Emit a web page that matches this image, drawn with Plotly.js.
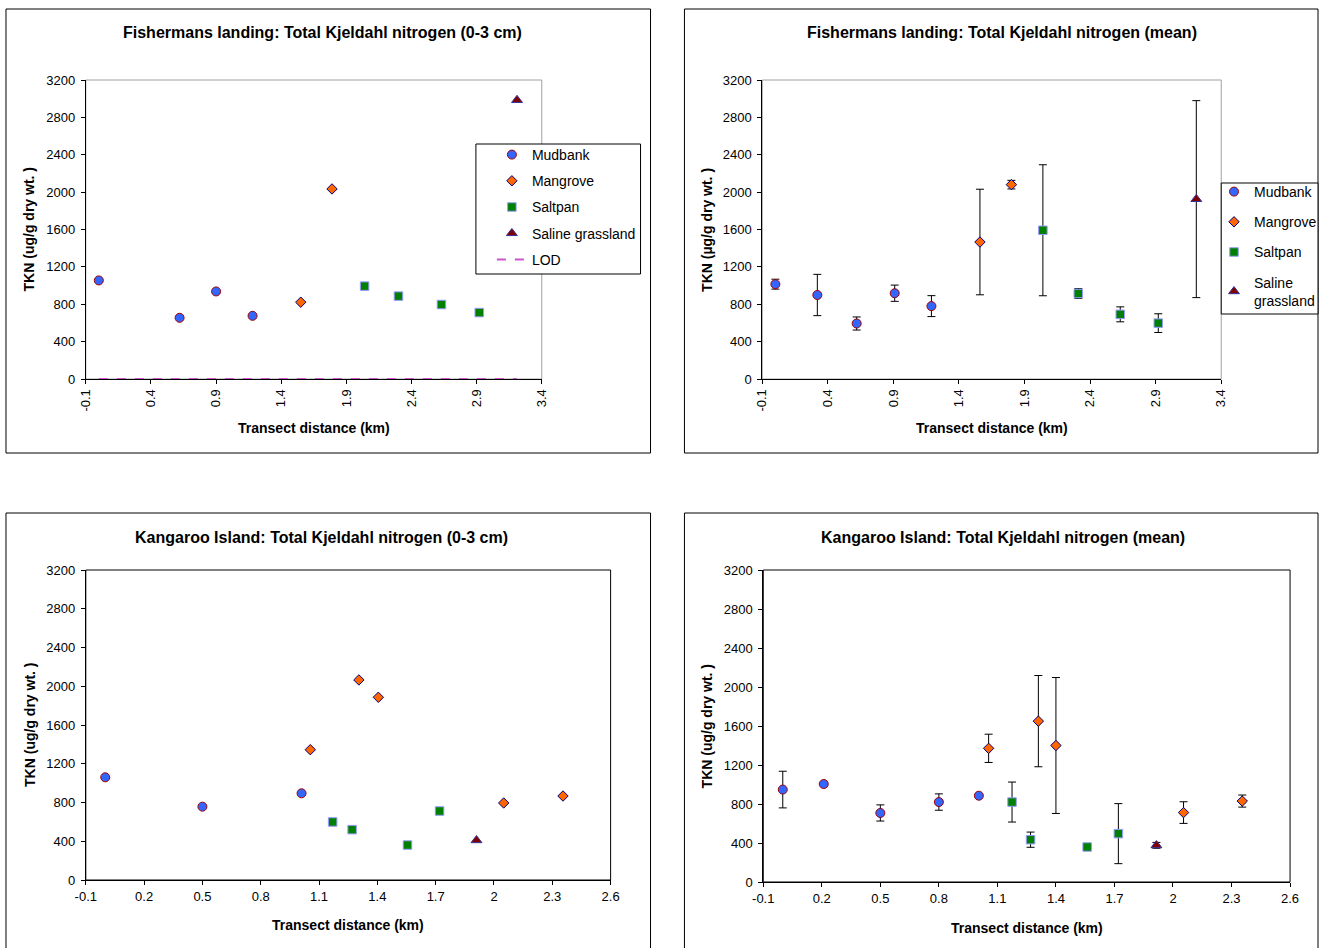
<!DOCTYPE html>
<html>
<head>
<meta charset="utf-8">
<script src="https://cdn.plot.ly/plotly-3.0.1.min.js"></script>
<style>
  html, body { margin: 0; padding: 0; background: #ffffff; }
  #chart { width: 1322px; height: 948px; }
</style>
</head>
<body>
<div id="chart"></div>
<script>
// ---------------- DATA ----------------
// Fishermans landing, 0-3 cm
const flMudX  = [0.00, 0.62, 0.90, 1.18];
const flMudY  = [1055, 655, 937, 676];
const flManX  = [1.55, 1.79];
const flManY  = [822, 2034];
const flSaltX = [2.04, 2.30, 2.63, 2.92];
const flSaltY = [994, 887, 797, 711];
const flSalX  = [3.21];
const flSalY  = [2985];
const flLodX  = [0.00, 3.21];
const flLodY  = [0, 0];

// Fishermans landing, mean (with error)
const flmMudX   = [0.00, 0.32, 0.62, 0.91, 1.19];
const flmMudY   = [1015, 899, 594, 918, 780];
const flmMudE   = [53, 221, 70, 87, 112];
const flmManX   = [1.56, 1.80];
const flmManY   = [1466, 2080];
const flmManE   = [565, 46];
const flmSaltX  = [2.04, 2.31, 2.63, 2.92];
const flmSaltY  = [1592, 915, 692, 598];
const flmSaltE  = [701, 52, 80, 100];
const flmSalX   = [3.21];
const flmSalY   = [1925];
const flmSalE   = [1054];

// Kangaroo Island, 0-3 cm
const kiMudX  = [0.00, 0.50, 1.01];
const kiMudY  = [1060, 757, 895];
const kiManX  = [1.055, 1.305, 1.405, 2.05, 2.355];
const kiManY  = [1345, 2065, 1886, 795, 867];
const kiSaltX = [1.17, 1.27, 1.555, 1.72];
const kiSaltY = [599, 520, 361, 712];
const kiSalX  = [1.91];
const kiSalY  = [410];

// Kangaroo Island, mean (with error)
const kimMudX  = [0.00, 0.21, 0.50, 0.80, 1.005];
const kimMudY  = [948, 1005, 708, 820, 885];
const kimMudE  = [188, 12, 83, 84, 10];
const kimManX  = [1.055, 1.31, 1.40, 2.054, 2.355];
const kimManY  = [1371, 1650, 1400, 712, 830];
const kimManE  = [145, 468, 697, 111, 62];
const kimSaltX = [1.175, 1.27, 1.56, 1.72];
const kimSaltY = [820, 434, 359, 496];
const kimSaltE = [205, 78, 15, 308];
const kimSalX  = [1.915];
const kimSalY  = [376];
const kimSalE  = [30];

const seriesNames = ['Mudbank', 'Mangrove', 'Saltpan', 'Saline grassland', 'LOD'];
const yTicks = [0, 400, 800, 1200, 1600, 2000, 2400, 2800, 3200];
const flXTicks = [-0.1, 0.4, 0.9, 1.4, 1.9, 2.4, 2.9, 3.4];
const flXTickText = ['-0.1', '0.4', '0.9', '1.4', '1.9', '2.4', '2.9', '3.4'];
const kiXTicks = [-0.1, 0.2, 0.5, 0.8, 1.1, 1.4, 1.7, 2.0, 2.3, 2.6];
const kiXTickText = ['-0.1', '0.2', '0.5', '0.8', '1.1', '1.4', '1.7', '2', '2.3', '2.6'];

// ---------------- STYLE ----------------
const W = 1322, H = 948;
const FONT = 'Liberation Sans, Arial, sans-serif';
const TICK = 13;
const px = v => v / W;
const py = v => 1 - v / H;

const STY = {
  mud:  {symbol: 'circle',        color: '#3366FF', line: '#A00000', size: 9},
  man:  {symbol: 'diamond',       color: '#FF6600', line: '#000080', size: 8},
  salt: {symbol: 'square',        color: '#008000', line: '#9999FF', size: 8.5},
  sal:  {symbol: 'triangle-up',   color: '#800000', line: '#3333A0', size: 9.5}
};

function pts(x, y, st, name, ax, opts) {
  opts = opts || {};
  const t = {
    type: 'scatter', mode: 'markers', x: x, y: y, name: name,
    xaxis: 'x' + ax.x, yaxis: 'y' + ax.y,
    marker: {symbol: st.symbol, color: st.color, size: st.size, line: {color: st.line, width: 1}},
    cliponaxis: false,
    showlegend: !!opts.legend,
    legendgroup: name + (opts.legend || ''),
    hoverinfo: 'x+y'
  };
  if (opts.legend) t.legend = opts.legend;
  if (opts.err) t.error_y = {type: 'data', array: opts.err, visible: true, color: '#000000', thickness: 1, width: 4};
  return t;
}

const A1 = {x: '', y: ''}, A2 = {x: '2', y: '2'}, A3 = {x: '3', y: '3'}, A4 = {x: '4', y: '4'};
const wrap = s => s.replace('Saline grassland', 'Saline<br>grassland');

const data = [
  pts(flMudX, flMudY, STY.mud, seriesNames[0], A1, {legend: 'legend'}),
  pts(flManX, flManY, STY.man, seriesNames[1], A1, {legend: 'legend'}),
  pts(flSaltX, flSaltY, STY.salt, seriesNames[2], A1, {legend: 'legend'}),
  pts(flSalX, flSalY, STY.sal, seriesNames[3], A1, {legend: 'legend'}),
  {type: 'scatter', mode: 'lines', x: flLodX, y: flLodY, name: seriesNames[4], xaxis: 'x', yaxis: 'y',
   line: {color: '#CC55CC', width: 2, dash: 'dash'}, legend: 'legend', legendgroup: 'lod', showlegend: true},

  pts(flmMudX, flmMudY, STY.mud, seriesNames[0], A2, {legend: 'legend2', err: flmMudE}),
  pts(flmManX, flmManY, STY.man, seriesNames[1], A2, {legend: 'legend2', err: flmManE}),
  pts(flmSaltX, flmSaltY, STY.salt, seriesNames[2], A2, {legend: 'legend2', err: flmSaltE}),
  pts(flmSalX, flmSalY, STY.sal, wrap(seriesNames[3]), A2, {legend: 'legend2', err: flmSalE}),

  pts(kiMudX, kiMudY, STY.mud, seriesNames[0], A3),
  pts(kiManX, kiManY, STY.man, seriesNames[1], A3),
  pts(kiSaltX, kiSaltY, STY.salt, seriesNames[2], A3),
  pts(kiSalX, kiSalY, STY.sal, seriesNames[3], A3),

  pts(kimMudX, kimMudY, STY.mud, seriesNames[0], A4, {err: kimMudE}),
  pts(kimManX, kimManY, STY.man, seriesNames[1], A4, {err: kimManE}),
  pts(kimSaltX, kimSaltY, STY.salt, seriesNames[2], A4, {err: kimSaltE}),
  pts(kimSalX, kimSalY, STY.sal, seriesNames[3], A4, {err: kimSalE})
];

function xax(dom, anchor, range, tv, tt, angle) {
  return {
    domain: dom, anchor: anchor, range: range, tickmode: 'array', tickvals: tv, ticktext: tt,
    showline: true, linecolor: '#000000', linewidth: 1, mirror: false,
    ticks: 'outside', ticklen: 4, tickcolor: '#000000', tickangle: angle,
    showgrid: false, zeroline: false, fixedrange: true, layer: 'below traces',
    tickfont: {family: FONT, size: TICK, color: '#000000'}
  };
}
function yax(dom, anchor) {
  return {
    domain: dom, anchor: anchor, range: [0, 3200], tickmode: 'array', tickvals: yTicks,
    showline: true, linecolor: '#000000', linewidth: 1,
    ticks: 'outside', ticklen: 4, tickcolor: '#000000', ticklabelstandoff: 3,
    showgrid: false, zeroline: false, fixedrange: true,
    tickfont: {family: FONT, size: TICK, color: '#000000'}
  };
}

// plot areas (pixels)
const P1 = {l: 86, r: 543, t: 80, b: 379};
const P2 = {l: 764, r: 1224, t: 80, b: 379};
const P3 = {l: 86, r: 612, t: 570, b: 880};
const P4 = {l: 765, r: 1293, t: 570, b: 882};
const dx = p => [px(p.l), px(p.r)];
const dy = p => [py(p.b), py(p.t)];

function ann(text, x, y, size, bold, angle) {
  return {
    xref: 'paper', yref: 'paper', x: px(x), y: py(y), xanchor: 'center', yanchor: 'middle',
    text: bold ? '<b>' + text + '</b>' : text, showarrow: false, textangle: angle || 0,
    font: {family: FONT, size: size, color: '#000000'}
  };
}

function box(x0, y0, x1, y1, fill, layer) {
  return {type: 'rect', xref: 'paper', yref: 'paper', x0: px(x0), x1: px(x1), y0: py(y1), y1: py(y0),
          line: {color: '#000000', width: 1}, fillcolor: fill || 'rgba(0,0,0,0)', layer: layer || 'below'};
}
function frame(ax, color) {
  return {type: 'rect', xref: 'x' + ax + ' domain', yref: 'y' + ax + ' domain', x0: 0, x1: 1, y0: 0, y1: 1,
          line: {color: color, width: 1}, fillcolor: 'rgba(0,0,0,0)', layer: 'below'};
}

const legendBase = {
  bgcolor: 'rgba(0,0,0,0)', borderwidth: 0,
  xanchor: 'left', yanchor: 'top', xref: 'paper', yref: 'paper',
  font: {family: FONT, size: 14, color: '#000000'}, itemwidth: 30, itemclick: false, itemdoubleclick: false
};

const layout = {
  width: W, height: H,
  margin: {l: 0, r: 0, t: 0, b: 0},
  paper_bgcolor: '#ffffff', plot_bgcolor: '#ffffff',
  font: {family: FONT, size: 11, color: '#000000'},
  showlegend: true,
  xaxis:  xax(dx(P1), 'y',  [-0.1, 3.4], flXTicks, flXTickText, -90),
  yaxis:  yax(dy(P1), 'x'),
  xaxis2: xax(dx(P2), 'y2', [-0.1, 3.4], flXTicks, flXTickText, -90),
  yaxis2: yax(dy(P2), 'x2'),
  xaxis3: xax(dx(P3), 'y3', [-0.1, 2.6], kiXTicks, kiXTickText, 0),
  yaxis3: yax(dy(P3), 'x3'),
  xaxis4: xax(dx(P4), 'y4', [-0.1, 2.6], kiXTicks, kiXTickText, 0),
  yaxis4: yax(dy(P4), 'x4'),
  legend: Object.assign({}, legendBase, {x: px(493), y: py(139), tracegroupgap: 5}),
  legend2: Object.assign({}, legendBase, {x: px(1217), y: py(176), tracegroupgap: 9}),
  shapes: [
    box(6, 9, 652, 453),
    box(686, 9, 1321, 453),
    box(6, 513, 652, 950),
    box(686, 513, 1321, 950),
    frame('', '#A0A0A0'),
    frame('2', '#A0A0A0'),
    frame('3', '#000000'),
    frame('4', '#000000'),
    box(477, 144, 642, 274, '#ffffff', 'above'),
    box(1224, 183, 1321, 314, '#ffffff', 'above')
  ],
  annotations: [
    ann('Fishermans landing: Total Kjeldahl nitrogen (0-3 cm)', 323, 33, 16, true),
    ann('Fishermans landing: Total Kjeldahl nitrogen (mean)', 1004, 33, 16, true),
    ann('Kangaroo Island: Total Kjeldahl nitrogen (0-3 cm)', 322, 537, 16, true),
    ann('Kangaroo Island: Total Kjeldahl nitrogen (mean)', 1005, 537, 16, true),
    ann('Transect distance (km)', (P1.l + P1.r) / 2, 428, 14, true),
    ann('Transect distance (km)', (P2.l + P2.r) / 2, 428, 14, true),
    ann('Transect distance (km)', (P3.l + P3.r) / 2, 925, 14, true),
    ann('Transect distance (km)', (P4.l + P4.r) / 2, 928, 14, true),
    ann('TKN (ug/g dry wt. )', 30, (P1.t + P1.b) / 2, 14, true, -90),
    ann('TKN (\u00b5g/g dry wt. )', 709, (P2.t + P2.b) / 2, 14, true, -90),
    ann('TKN (ug/g dry wt. )', 30, (P3.t + P3.b) / 2, 14, true, -90),
    ann('TKN (ug/g dry wt. )', 709, (P4.t + P4.b) / 2, 14, true, -90)
  ]
};

Plotly.newPlot('chart', data, layout, {staticPlot: true, displayModeBar: false});
</script>
</body>
</html>
